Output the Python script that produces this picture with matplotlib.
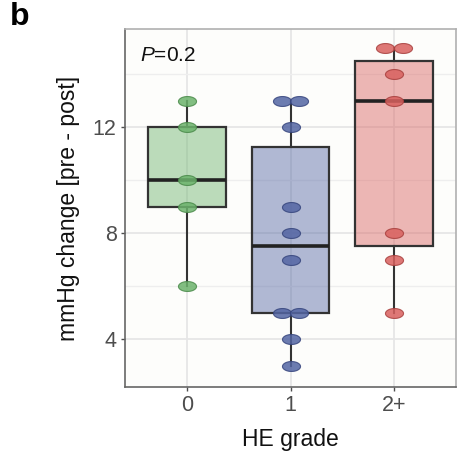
import numpy as np
import matplotlib
matplotlib.use('Agg')
import matplotlib.pyplot as plt
from matplotlib.path import Path
from collections import Counter

# data
GRADES = ['0', '1', '2+']
grade_0 = [13, 12, 10, 9, 6]
grade_1 = [13, 13, 12, 9, 8, 7, 5, 5, 4, 3]
grade_2 = [15, 15, 14, 13, 8, 7, 5]
P_TEXT = '=0.2'

DOT_COLORS = ['#6cb36c', '#5365a3', '#d9615f']
EDGE_COLORS = ['#4a8a4a', '#36457d', '#a8403e']

plt.rcParams['font.family'] = ['Liberation Sans', 'DejaVu Sans']
plt.rcParams['mathtext.fontset'] = 'custom'
plt.rcParams['mathtext.rm'] = 'Liberation Sans'
plt.rcParams['mathtext.it'] = 'Liberation Sans:italic'

fig = plt.figure(figsize=(4.58, 4.65), dpi=100)
ax = fig.add_axes([125/458, 1 - 387/465, 331/458, 358/465])
ax.set_facecolor('#fdfdfb')

groups = [grade_0, grade_1, grade_2]
pos = np.arange(len(groups))

bp = ax.boxplot(groups, positions=pos, widths=0.75, patch_artist=True,
                showfliers=False, showcaps=False, whis=1.5,
                medianprops=dict(color='#222222', linewidth=2.6),
                whiskerprops=dict(color='#333333', linewidth=1.5),
                boxprops=dict(linewidth=1.6), zorder=2)
for patch, c in zip(bp['boxes'], DOT_COLORS):
    patch.set_facecolor(matplotlib.colors.to_rgba(c, 0.45))
    patch.set_edgecolor('#333333')

# elliptical dot marker
t = np.linspace(0, 2 * np.pi, 60)
ell = Path(np.column_stack([np.cos(t), 0.55 * np.sin(t)]), closed=True)

dot_w = 0.167
for i, vals in enumerate(groups):
    counts = Counter(vals)
    xs, ys = [], []
    for v, n in counts.items():
        for k in range(n):
            xs.append(pos[i] + (k - (n - 1) / 2) * dot_w)
            ys.append(v)
    ax.scatter(xs, ys, s=13 ** 2, marker=ell, facecolor=DOT_COLORS[i],
               edgecolor=EDGE_COLORS[i], linewidth=0.8, alpha=0.85, zorder=3)

ax.set_xlim(-0.6, 2.6)
ax.set_ylim(2.2, 15.7)
ax.set_xticks(pos)
ax.set_xticklabels(GRADES)
ax.set_yticks([4, 8, 12])
ax.set_yticks([6, 10, 14], minor=True)
ax.grid(which='major', color='#e6e6e6', linewidth=1.3, zorder=0)
ax.grid(which='minor', axis='y', color='#eeeeee', linewidth=1.0, zorder=0)
ax.set_axisbelow(True)
ax.tick_params(axis='both', which='major', labelsize=15.5, labelcolor='#4d4d4d',
               color='#4d4d4d', length=3, width=1, pad=3)
ax.tick_params(axis='y', which='minor', length=0)

for s in ['left', 'bottom']:
    ax.spines[s].set_color('#666666')
    ax.spines[s].set_linewidth(1.2)
for s in ['top', 'right']:
    ax.spines[s].set_color('#b0b0b0')
    ax.spines[s].set_linewidth(1.2)

ax.set_ylabel('mmHg change [pre - post]', fontsize=16.5, color='#111111')
ax.yaxis.set_label_coords(-0.172, 0.5)
ax.yaxis.label.set_va('center')
ax.set_xlabel('HE grade', fontsize=16.5, color='#111111')
ax.xaxis.set_label_coords(0.5, -0.148)
ax.xaxis.label.set_va('center')

ax.text(0.045, 0.925, r'$\mathit{P}$' + P_TEXT, transform=ax.transAxes,
        fontsize=15, va='center', ha='left', color='#111111')

fig.text(10/458, 1 - 17/465, 'b', fontsize=23, fontweight='bold', va='center', ha='left')

fig.savefig('out.png', dpi=100)
